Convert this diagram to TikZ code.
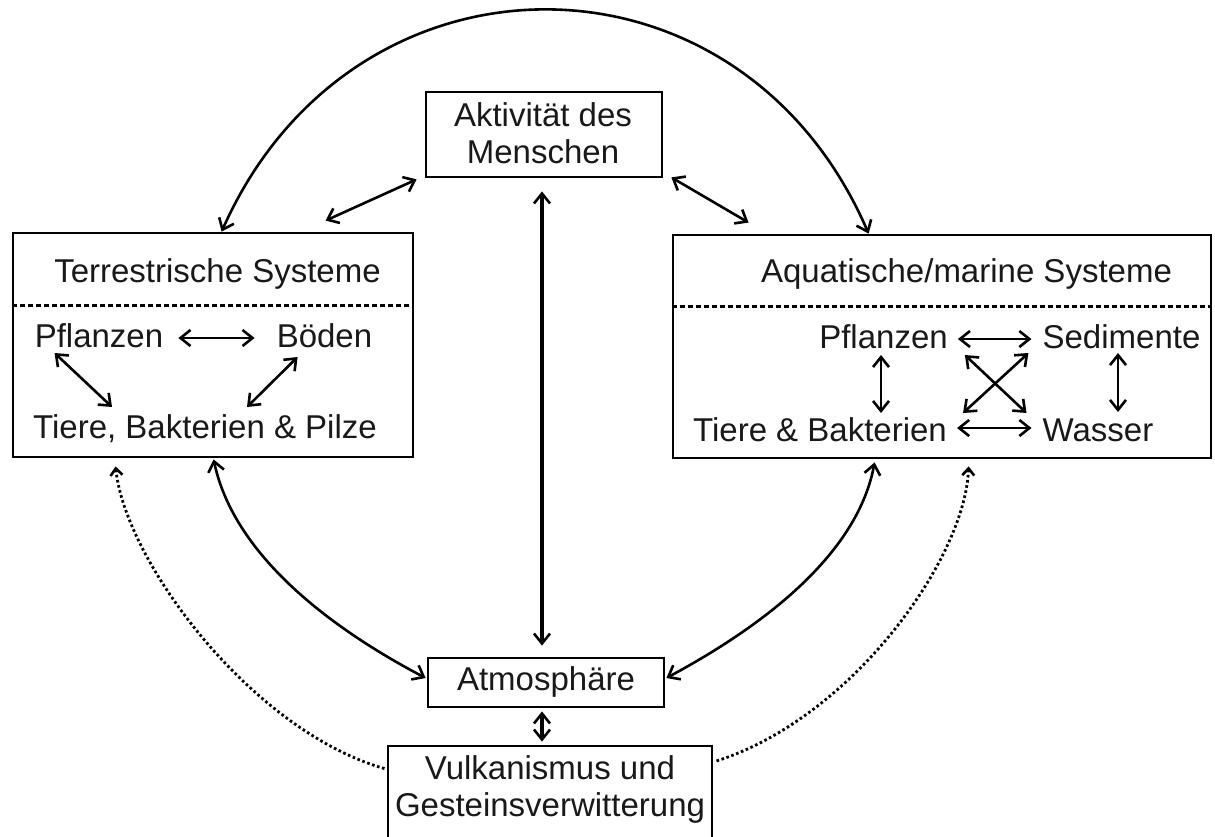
\documentclass[tikz,border=0pt]{standalone}
\usepackage{fontspec}
\setmainfont{Liberation Sans}
\usetikzlibrary{arrows.meta}
\begin{document}
\begin{tikzpicture}[x=1pt,y=-1pt,
  box/.style={draw, line width=2.8pt, inner sep=0pt},
  txt/.style={font=\fontsize{33}{37}\selectfont, inner sep=0pt, anchor=base, text=black!90},
  tip/.tip={Straight Barb[length=10pt,width=16pt,line width=2.6pt]},
  dtip/.tip={Straight Barb[length=7pt,width=12pt,line width=2.6pt]},
  dbl/.style={line width=2.6pt, tip-tip},
  thick dbl/.style={line width=3.6pt, tip-tip},
  dsh/.style={line width=2.6pt, dash pattern=on 5pt off 3pt},
  dots/.style={line width=2.8pt, dash pattern=on 2.6pt off 2.6pt, dtip-}
]
\clip (0,0) rectangle (1215,836);

% boxes
\node[box, minimum width=236pt, minimum height=85pt] (akt) at (544,134.5) {};
\node[box, minimum width=400pt, minimum height=224pt] (lt) at (213,345) {};
\node[box, minimum width=538pt, minimum height=223pt] (rt) at (942,346.5) {};
\node[box, minimum width=236pt, minimum height=49pt] (atm) at (546,682.5) {};
\node[box, minimum width=324pt, minimum height=114pt] (vulk) at (550,803) {};

% dashed separators
\draw[dsh] ([shift={(0,74)}]lt.north west) -- ([shift={(0,74)}]lt.north east);
\draw[dsh] ([shift={(0,73)}]rt.north west) -- ([shift={(0,73)}]rt.north east);

% texts
\node[txt] (akt1) at (543,126) {Aktivität des};
\node[txt] (akt2) at (543,163) {Menschen};
\node[txt] (ltt) at (217.5,282) {Terrestrische Systeme};
\node[txt] (lpfl) at (99,347) {Pflanzen};
\node[txt] (lboe) at (324.5,347) {Böden};
\node[txt] (ltier) at (205,438) {Tiere, Bakterien \& Pilze};
\node[txt] (rtt) at (966.5,282) {Aquatische/marine Systeme};
\node[txt] (rpfl) at (883.5,348) {Pflanzen};
\node[txt] (rsed) at (1121.5,348) {Sedimente};
\node[txt] (rtier) at (820,441) {Tiere \& Bakterien};
\node[txt] (rwas) at (1098,441.5) {Wasser};
\node[txt] (atmt) at (546,690) {Atmosphäre};
\node[txt] (vulk1) at (550,779) {Vulkanismus und};
\node[txt] (vulk2) at (550,816.5) {Gesteinsverwitterung};

% inner arrows, left box
\draw[dbl] ([shift={(15,-9)}]lpfl.base east) -- ([shift={(-22,-9)}]lboe.base west);
\draw[dbl] ([shift={(20,6)}]lpfl.base west) -- ([shift={(79,-31)}]ltier.base west);
\draw[dbl] ([shift={(21,10)}]lboe.base west) -- ([shift={(214,-31)}]ltier.base west);

% inner arrows, right box
\draw[dbl] ([shift={(10,-9)}]rpfl.base east) -- ([shift={(-11,-9)}]rsed.base west);
\draw[dbl] ([shift={(10,-13)}]rtier.base east) -- ([shift={(-11,-13.5)}]rwas.base west);
\draw[dbl] ([shift={(-2.5,7)}]rpfl.base) -- ([shift={(61,-28)}]rtier.base);
\draw[dbl] ([shift={(-3.5,5)}]rsed.base) -- ([shift={(20,-29.5)}]rwas.base);
\draw[dbl] ([shift={(17,7)}]rpfl.base east) -- ([shift={(-16,-28.5)}]rwas.base west);
\draw[dbl] ([shift={(-14,5)}]rsed.base west) -- ([shift={(16,-28)}]rtier.base east);

% outer arrows
\draw[dbl] ([shift={(-8,1)}]akt.south west) -- ([shift={(314,-11)}]lt.north west);
\draw[dbl] ([shift={(8,-1)}]akt.south east) -- ([shift={(77,-11)}]rt.north west);
\draw[thick dbl] ([shift={(-2,13)}]akt.south) -- ([shift={(-4,-11)}]atm.north);
\draw[thick dbl] ([shift={(-4,3)}]atm.south) -- ([shift={(-8,-3)}]vulk.north);

\draw[dbl] ([shift={(210,0)}]lt.north west) .. controls (353,-64) and (740,-64) .. ([shift={(197,0)}]rt.north west);
\draw[dbl] ([shift={(202,1)}]lt.south west) .. controls (235,560) and (340,633) .. ([shift={(-1,-4.5)}]atm.west);
\draw[dbl] ([shift={(203,3)}]rt.south west) .. controls (856,561) and (750,633) .. ([shift={(1,-4.5)}]atm.east);

% dotted
\draw[dots] ([shift={(104,8)}]lt.south west) .. controls (125,560) and (250,730) .. ([shift={(-2,24)}]vulk.north west);
\draw[dots] ([shift={(297,7)}]rt.south west) .. controls (965,560) and (850,720) .. ([shift={(1,17)}]vulk.north east);
\end{tikzpicture}
\end{document}
